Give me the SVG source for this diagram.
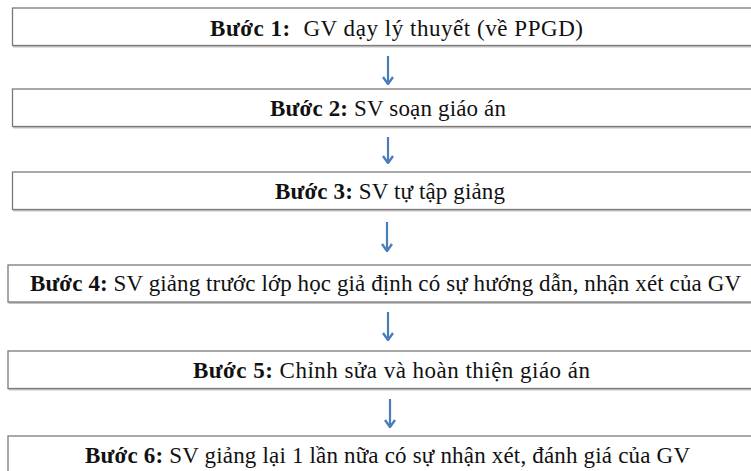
<svg xmlns="http://www.w3.org/2000/svg" width="751" height="471" viewBox="0 0 751 471">
<defs>
<style>
.box{fill:#fff;stroke:#7a7a7a;stroke-width:1.3}
.sh{fill:none;stroke:#c4c4c4;stroke-width:2}
.t{font-family:"Liberation Serif","Times New Roman",serif;font-size:23px;fill:#111;text-anchor:middle}
.b{font-weight:bold}
.arr{stroke:#4a7ebb;stroke-width:2.2;fill:none}
</style>
<marker id="ah" viewBox="0 0 10 12" refX="9" refY="6" markerWidth="10" markerHeight="12" markerUnits="userSpaceOnUse" orient="auto">
<path d="M2,1 L9,6 L2,11" fill="none" stroke="#4a7ebb" stroke-width="2.4" stroke-linejoin="miter"/>
</marker>
</defs>
<rect width="751" height="471" fill="#fff"/>
<g id="connectors">
<line class="arr" x1="388" y1="56" x2="388" y2="84" marker-end="url(#ah)"/>
<line class="arr" x1="388" y1="137" x2="388" y2="163" marker-end="url(#ah)"/>
<line class="arr" x1="387" y1="222" x2="387" y2="251" marker-end="url(#ah)"/>
<line class="arr" x1="388" y1="312" x2="388" y2="340" marker-end="url(#ah)"/>
<line class="arr" x1="390" y1="399" x2="390" y2="427" marker-end="url(#ah)"/>
</g>
<g id="step1">
<line class="sh" x1="13" y1="46.5" x2="751" y2="46.5"/>
<rect class="box" x="12.5" y="8" width="745" height="37.5"/>
<text class="t" x="396.5" y="35.5" xml:space="preserve" textLength="373"><tspan class="b">Bước 1:</tspan>  GV dạy lý thuyết (về PPGD)</text>
</g>
<g id="step2">
<line class="sh" x1="13" y1="127.5" x2="751" y2="127.5"/>
<rect class="box" x="12.5" y="89" width="745" height="37.5"/>
<text class="t" x="388" y="116" textLength="236"><tspan class="b">Bước 2:</tspan> SV soạn giáo án</text>
</g>
<g id="step3">
<line class="sh" x1="13" y1="210.5" x2="751" y2="210.5"/>
<rect class="box" x="12.5" y="172" width="745" height="37.5"/>
<text class="t" x="390" y="199" textLength="230"><tspan class="b">Bước 3:</tspan> SV tự tập giảng</text>
</g>
<g id="step4">
<line class="sh" x1="8.5" y1="303" x2="751" y2="303"/>
<rect class="box" x="8" y="265" width="750" height="37"/>
<text class="t" x="385.5" y="291" textLength="711"><tspan class="b">Bước 4:</tspan> SV giảng trước lớp học giả định có sự hướng dẫn, nhận xét của GV</text>
</g>
<g id="step5">
<line class="sh" x1="8.5" y1="389.5" x2="751" y2="389.5"/>
<rect class="box" x="8" y="351" width="750" height="37.5"/>
<text class="t" x="391.5" y="377.5" textLength="397"><tspan class="b">Bước 5:</tspan> Chỉnh sửa và hoàn thiện giáo án</text>
</g>
<g id="step6">
<rect class="box" x="8" y="436" width="750" height="40"/>
<text class="t" x="387.5" y="463" textLength="605"><tspan class="b">Bước 6:</tspan> SV giảng lại 1 lần nữa có sự nhận xét, đánh giá của GV</text>
</g>
</svg>
